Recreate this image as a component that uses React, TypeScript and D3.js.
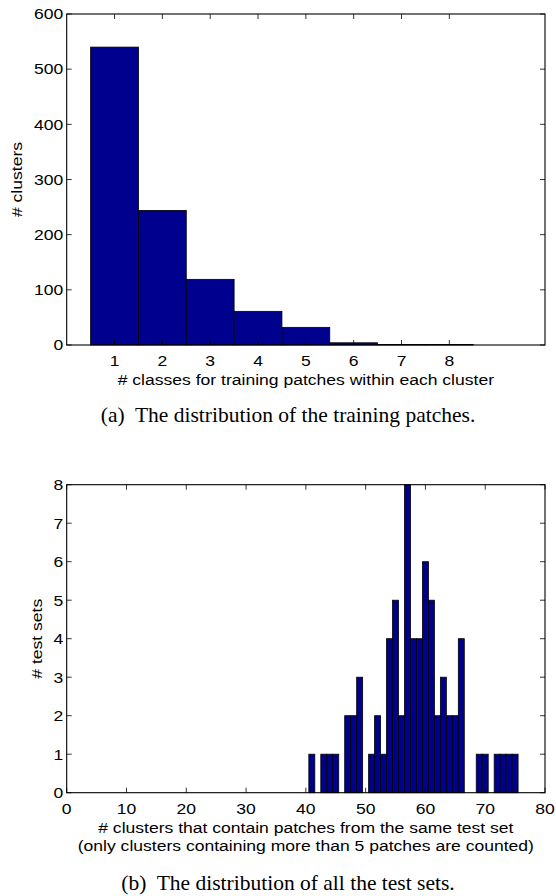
import React from "react";
import * as d3 from "d3";

// (a) training patches: number of classes per cluster
const classCounts = [1, 2, 3, 4, 5, 6, 7, 8];
const clustersPerClass = [540, 244, 119, 61, 32, 4, 1, 1];
const topXTicks = [1, 2, 3, 4, 5, 6, 7, 8];
const topYTicks = [0, 100, 200, 300, 400, 500, 600];

// (b) test sets: number of clusters per test set
const clusterNums = [41, 43, 44, 45, 47, 48, 49, 51, 52, 53, 54, 55, 56, 57, 58, 59, 60, 61, 62, 63, 64, 65, 66, 69, 70, 72, 73, 74, 75];
const testSetCounts = [1, 1, 1, 1, 2, 2, 3, 1, 2, 1, 4, 5, 2, 8, 4, 4, 6, 5, 2, 3, 2, 2, 4, 1, 1, 1, 1, 1, 1];
const bottomXTicks = [0, 10, 20, 30, 40, 50, 60, 70, 80];
const bottomYTicks = [0, 1, 2, 3, 4, 5, 6, 7, 8];

const barFill = "#00008f";
const sans = "'Liberation Sans', Arial, Helvetica, sans-serif";
const serif = "'Liberation Serif', 'Times New Roman', serif";
const stretch = 1.17;
const tickLen = 5;

// stretched text, the figure was squeezed vertically in the paper
const SText = ({ x, y, anchor = "middle", rotate = false, size = 15, children }) => (
  <text
    transform={`translate(${x},${y})${rotate ? " rotate(-90)" : ""} scale(${stretch},1)`}
    textAnchor={anchor}
    fontFamily={sans}
    fontSize={size}
    fill="#000"
  >
    {children}
  </text>
);

const Histogram = ({ xDomain, yDomain, box, xs, ys, xTicks, yTicks, yLabel, yLabelX, xLabels }) => {
  const [left, top, right, bottom] = box;
  const x = d3.scaleLinear().domain(xDomain).range([left, right]);
  const y = d3.scaleLinear().domain(yDomain).range([bottom, top]);

  return (
    <g>
      {xs.map((v, i) => (
        <rect
          key={i}
          x={x(v - 0.5)}
          y={y(ys[i])}
          width={x(v + 0.5) - x(v - 0.5)}
          height={y(0) - y(ys[i])}
          fill={barFill}
          stroke="#000"
          strokeWidth={0.8}
        />
      ))}
      <rect x={left} y={top} width={right - left} height={bottom - top} fill="none" stroke="#000" strokeWidth={1.1} />
      {xTicks.map((t) => (
        <g key={"x" + t}>
          <line x1={x(t)} x2={x(t)} y1={bottom} y2={bottom - tickLen} stroke="#000" strokeWidth={0.8} />
          <line x1={x(t)} x2={x(t)} y1={top} y2={top + tickLen} stroke="#000" strokeWidth={0.8} />
          <SText x={x(t)} y={bottom + 21}>{t}</SText>
        </g>
      ))}
      {yTicks.map((t) => (
        <g key={"y" + t}>
          <line x1={left} x2={left + tickLen} y1={y(t)} y2={y(t)} stroke="#000" strokeWidth={0.8} />
          <line x1={right} x2={right - tickLen} y1={y(t)} y2={y(t)} stroke="#000" strokeWidth={0.8} />
          <SText x={left - 3.5} y={y(t) + 5.3} anchor="end">{t}</SText>
        </g>
      ))}
      <SText x={yLabelX} y={(top + bottom) / 2} rotate>{yLabel}</SText>
      {xLabels.map((l, i) => (
        <SText key={i} x={(left + right) / 2} y={bottom + 40 + i * 18}>{l}</SText>
      ))}
    </g>
  );
};

export default function App() {
  return (
    <div style={{ position: "absolute", left: 0, top: 0 }}>
      <svg width={556} height={896} style={{ display: "block", background: "#fff" }}>
        <Histogram
          xDomain={[0, 10]}
          yDomain={[0, 600]}
          box={[66.7, 14, 545, 345]}
          xs={classCounts}
          ys={clustersPerClass}
          xTicks={topXTicks}
          yTicks={topYTicks}
          yLabel="# clusters"
          yLabelX={22}
          xLabels={["# classes for training patches within each cluster"]}
        />
        <text x={288} y={422} textAnchor="middle" fontFamily={serif} fontSize={21.5} fill="#000">
          (a)&#160; The distribution of the training patches.
        </text>
        <Histogram
          xDomain={[0, 80]}
          yDomain={[0, 8]}
          box={[66.7, 484.7, 545, 792.7]}
          xs={clusterNums}
          ys={testSetCounts}
          xTicks={bottomXTicks}
          yTicks={bottomYTicks}
          yLabel="# test sets"
          yLabelX={42}
          xLabels={[
            "# clusters that contain patches from the same test set",
            "(only clusters containing more than 5 patches are counted)",
          ]}
        />
        <text x={288} y={890} textAnchor="middle" fontFamily={serif} fontSize={21.5} fill="#000">
          (b)&#160; The distribution of all the test sets.
        </text>
      </svg>
    </div>
  );
}
